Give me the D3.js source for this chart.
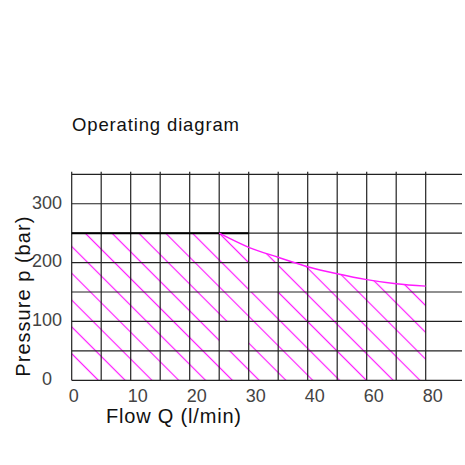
<!DOCTYPE html>
<html>
<head>
<meta charset="utf-8">
<script src="https://cdn.jsdelivr.net/npm/d3@7"></script>
<style>
  body { margin: 0; background: #fff; }
  text { font-family: "Liberation Sans", Arial, sans-serif; }
</style>
</head>
<body>
<script>
// chart values
const flowTicks = [0, 10, 20, 30, 40, 60, 80];
const pressureTicks = [0, 100, 200, 300];
const flowGrid = [0, 5, 10, 15, 20, 25, 30, 35, 40, 50, 60, 70, 80];
const pressureGrid = [0, 50, 100, 150, 200, 250, 300, 350];
// black limit line at 250 bar
const limitFlow = [0, 30];
const limitPressure = 250;
// magenta boundary of the operating area
const curveFlow = [25, 30, 35, 40, 50, 60, 70, 80];
const curvePressure = [250, 226, 209, 193, 181, 171, 164, 160];
// cells left without hatching
const gapFlow = [[25, 30], [30, 35]];
const gapPressure = [[50, 100], [150, 200]];

const w = 465, h = 465;
const svg = d3.select("body").append("svg")
    .attr("width", w)
    .attr("height", h);

// flow axis is stretched: 5 l/min per cell up to 40, then 10 l/min per cell
const x = d3.scaleLinear().domain([0, 40, 80]).range([71.7, 307.7, 425.7]);
const y = d3.scaleLinear().domain([0, 350]).range([380.3, 174.3]);
const gridRight = 462;

const magenta = "#ff1aff";

// hatch pattern, 45 degree lines going through the start of the curve
const spacing = 18.95;
const anchor = [x(25), y(250)];
const defs = svg.append("defs");
const pattern = defs.append("pattern")
    .attr("id", "hatch")
    .attr("patternUnits", "userSpaceOnUse")
    .attr("width", 20)
    .attr("height", spacing)
    .attr("patternTransform", `translate(${anchor[0]},${anchor[1]}) rotate(45) translate(0,${-spacing / 2})`);
pattern.append("line")
    .attr("x1", 0).attr("x2", 20)
    .attr("y1", spacing / 2).attr("y2", spacing / 2)
    .attr("stroke", magenta)
    .attr("stroke-width", 1.2);

const curvePts = curveFlow.map((q, i) => [x(q), y(curvePressure[i])]);
const curveLine = d3.line().curve(d3.curveMonotoneX);
const curvePath = curveLine(curvePts);

// area under the boundary, with the empty cells cut out
let areaPath = `M${x(0)},${y(0)} L${x(0)},${y(limitPressure)} ` +
    curvePath.replace(/^M/, "L") + ` L${x(80)},${y(0)} Z`;
gapFlow.forEach((g, i) => {
    const p = gapPressure[i];
    areaPath += ` M${x(g[0])},${y(p[0])} L${x(g[1])},${y(p[0])} L${x(g[1])},${y(p[1])} L${x(g[0])},${y(p[1])} Z`;
});
defs.append("clipPath").attr("id", "areaClip")
    .append("path")
    .attr("d", areaPath)
    .attr("clip-rule", "evenodd");

svg.append("rect")
    .attr("x", x(0) - 2).attr("y", y(limitPressure) - 2)
    .attr("width", x(80) - x(0) + 4).attr("height", y(0) - y(limitPressure) + 4)
    .attr("fill", "url(#hatch)")
    .attr("clip-path", "url(#areaClip)");

// grid
const grid = svg.append("g").attr("stroke", "#222").attr("stroke-width", 1.2);
grid.selectAll(".hline")
    .data(pressureGrid)
    .enter()
    .append("line")
    .attr("class", "hline")
    .attr("x1", x(0)).attr("x2", gridRight)
    .attr("y1", d => y(d)).attr("y2", d => y(d));
grid.selectAll(".vline")
    .data(flowGrid)
    .enter()
    .append("line")
    .attr("class", "vline")
    .attr("x1", d => x(d)).attr("x2", d => x(d))
    .attr("y1", y(350) - 2.5).attr("y2", y(0));

// black limit line
svg.append("line")
    .attr("x1", x(limitFlow[0])).attr("x2", x(limitFlow[1]))
    .attr("y1", y(limitPressure)).attr("y2", y(limitPressure))
    .attr("stroke", "#000")
    .attr("stroke-width", 2);

// magenta curve
svg.append("path")
    .attr("d", curvePath)
    .attr("fill", "none")
    .attr("stroke", magenta)
    .attr("stroke-width", 1.4);

// tick labels
svg.selectAll(".xtick")
    .data(flowTicks)
    .enter()
    .append("text")
    .attr("class", "xtick")
    .attr("x", d => x(d) - 3)
    .attr("y", 402.3)
    .attr("font-size", 18)
    .attr("fill", "#444")
    .text(d => d);

svg.selectAll(".ytick")
    .data(pressureTicks)
    .enter()
    .append("text")
    .attr("class", "ytick")
    .attr("x", 47)
    .attr("y", d => y(d) - 1.5)
    .attr("dy", "0.35em")
    .attr("text-anchor", "middle")
    .attr("font-size", 18)
    .attr("fill", "#444")
    .text(d => d);

// titles
svg.append("text")
    .attr("x", 72)
    .attr("y", 130.7)
    .attr("font-size", 18.5)
    .attr("fill", "#111")
    .attr("textLength", 167)
    .attr("lengthAdjust", "spacing")
    .text("Operating diagram");

svg.append("text")
    .attr("x", 106)
    .attr("y", 422.7)
    .attr("font-size", 20)
    .attr("fill", "#111")
    .attr("textLength", 135)
    .attr("lengthAdjust", "spacing")
    .text("Flow Q (l/min)");

svg.append("text")
    .attr("transform", "translate(30,296.7) rotate(-90)")
    .attr("text-anchor", "middle")
    .attr("font-size", 20)
    .attr("fill", "#111")
    .attr("textLength", 160)
    .attr("lengthAdjust", "spacing")
    .text("Pressure p (bar)");
</script>
</body>
</html>
